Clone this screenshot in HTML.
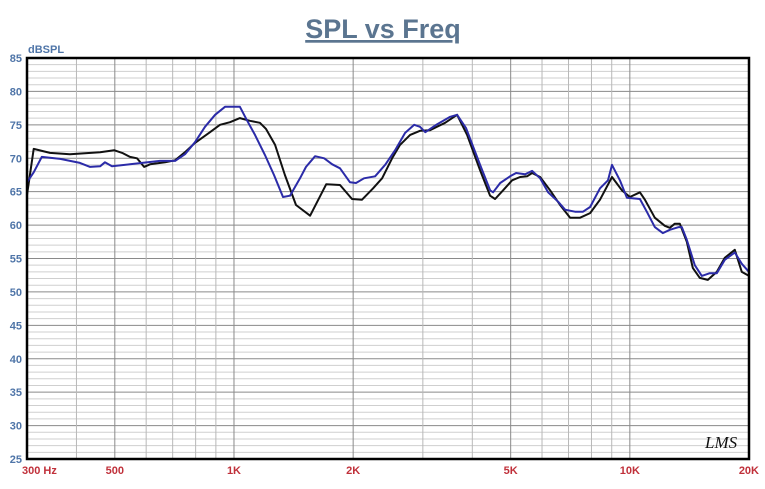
<!DOCTYPE html>
<html><head><meta charset="utf-8"><style>
body{margin:0;background:#fff;width:765px;height:484px;overflow:hidden;font-family:"Liberation Sans",sans-serif}
</style></head><body>
<svg id="chart" width="765" height="484" xmlns="http://www.w3.org/2000/svg">
<text x="383" y="38" text-anchor="middle" font-family="Liberation Sans" font-weight="bold" font-size="27" fill="#5b7590" text-decoration="underline">SPL vs Freq</text>
<text x="28" y="53" font-family="Liberation Sans" font-weight="bold" font-size="11" fill="#4f75a8">dBSPL</text>
<g id="grid"></g><g id="labels"></g><g id="series"></g>
<rect x="27" y="58" width="722" height="401" fill="none" stroke="#000" stroke-width="2.5"/>
<text x="705" y="448" font-family="Liberation Serif" font-style="italic" font-size="17" fill="#111">LMS</text>
</svg>
<script>
const yTicks=[85,80,75,70,65,60,55,50,45,40,35,30,25];
const xTickVals=[300,500,1000,2000,5000,10000,20000];
const xTickLabels=["300  Hz","500","1K","2K","5K","10K","20K"];
const gridFreqs=[300,400,500,600,700,800,900,1000,2000,3000,4000,5000,6000,7000,8000,9000,10000,20000];
const blackFreq=[300,312,343,385,459,498,522,546,569,593,614,670,710,752,797,870,922,977,1035,1097,1163,1204,1270,1345,1434,1557,1710,1853,1987,2106,2246,2367,2509,2627,2785,2951,3128,3414,3661,3880,4186,4436,4567,4785,5043,5282,5502,5665,5935,6290,6666,7063,7486,7934,8406,9012,9551,10004,10601,10914,11564,12255,12617,12990,13373,13930,14424,15024,15741,16586,17374,18414,19180,20000];
const blackDb=[64.5,71.4,70.8,70.6,70.9,71.2,70.8,70.2,70.0,68.7,69.1,69.4,69.7,70.9,72.3,73.9,75.0,75.4,76.0,75.6,75.3,74.4,72.0,67.5,63.0,61.4,66.1,66.0,63.9,63.8,65.5,67.0,70.0,72.0,73.5,74.1,74.2,75.3,76.5,73.5,68.2,64.4,63.9,65.2,66.7,67.2,67.3,67.8,67.2,65.2,63.0,61.1,61.1,61.8,63.8,67.2,65.2,64.2,64.9,63.8,61.1,59.9,59.6,60.2,60.2,57.5,53.6,52.1,51.8,53.0,55.1,56.3,53.0,52.4];
const blueFreq=[300,312,327,364,408,433,459,472,492,546,650,710,752,797,845,896,949,1035,1078,1130,1197,1262,1330,1385,1468,1520,1603,1690,1771,1853,1964,2033,2130,2273,2408,2553,2705,2852,2951,3043,3262,3517,3661,3857,4186,4436,4514,4705,4983,5160,5438,5665,5935,6217,6589,6863,7271,7617,7934,8406,8805,9012,9438,9832,10601,11040,11564,12111,12617,13295,13528,13930,14593,15198,15923,16586,17374,18414,19180,20000];
const blueDb=[66.4,67.9,70.2,69.9,69.3,68.7,68.8,69.4,68.8,69.1,69.6,69.6,70.6,72.4,74.7,76.5,77.7,77.7,75.7,73.5,70.5,67.5,64.2,64.4,67.0,68.7,70.3,70.0,69.1,68.5,66.4,66.3,67.0,67.3,69.0,71.2,73.8,75.0,74.7,73.9,75.1,76.2,76.5,74.5,69.0,65.2,64.9,66.3,67.3,67.8,67.6,68.1,67.0,64.9,63.5,62.3,62.0,62.0,62.7,65.5,66.7,69.0,66.7,64.1,63.9,62.0,59.7,58.8,59.3,59.7,59.7,57.8,54.0,52.4,52.8,52.8,54.8,55.9,54.2,53.0];
const L=27,R=749,T=58,B=459,fMin=300,fMax=20000,dMin=25,dMax=85;
const xs=f=>L+(R-L)*Math.log(f/fMin)/Math.log(fMax/fMin);
const ys=d=>B-(B-T)*(d-dMin)/(dMax-dMin);
const NS="http://www.w3.org/2000/svg";
function mk(tag,parent,attrs){const e=document.createElementNS(NS,tag);for(const k in attrs)e.setAttribute(k,attrs[k]);parent.appendChild(e);return e;}
const grid=document.getElementById('grid'),labels=document.getElementById('labels'),series=document.getElementById('series');
for(let d=dMin;d<=dMax;d++){
 const l=mk('line',grid,{x1:L,x2:R,y1:ys(d),y2:ys(d),stroke:d%5===0?'#8a8a8a':'#cfcfcf','stroke-width':1});
 
 
}
gridFreqs.forEach(f=>{
 const major=[1000,10000,500,5000,2000].includes(f);
 const l=mk('line',grid,{x1:xs(f),x2:xs(f),y1:T,y2:B,stroke:major?'#8a8a8a':'#b8b8b8','stroke-width':1});
 
 
});
yTicks.forEach(d=>{
 const t=mk('text',labels,{x:22,y:ys(d)+4,'text-anchor':'end','font-size':11,'font-weight':'bold',fill:'#4f75a8','font-family':'Liberation Sans'});
 t.textContent=d;
 
 
});
xTickVals.forEach((f,i)=>{
 let anchor='middle',x=xs(f);
 if(i===0){anchor='start';x=L-5;}
 if(i===xTickVals.length-1){anchor='end';x=R+10;}
 const t=mk('text',labels,{x:x,y:474,'text-anchor':anchor,'font-size':11,'font-weight':'bold',fill:'#c0303a','font-family':'Liberation Sans','xml:space':'preserve'});
 t.textContent=xTickLabels[i];
 
 
});
function line(fr,db,color,name){
 const p=fr.map((f,i)=>(i?'L':'M')+xs(f).toFixed(1)+' '+ys(db[i]).toFixed(1)).join(' ');
 const e=mk('path',series,{d:p,fill:'none',stroke:color,'stroke-width':2,'stroke-linejoin':'round'});
 
 
}
line(blackFreq,blackDb,'#111','black-series');
line(blueFreq,blueDb,'#2b2ba8','blue-series');
</script>
</body></html>
